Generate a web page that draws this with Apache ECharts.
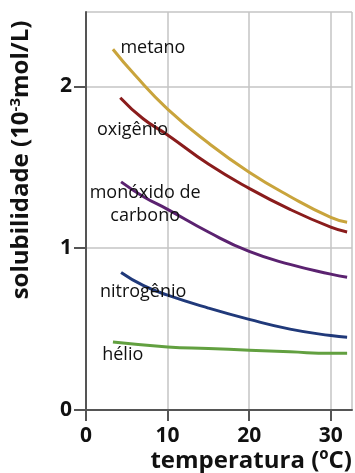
<!DOCTYPE html>
<html>
<head>
<meta charset="utf-8">
<script src="https://cdn.jsdelivr.net/npm/echarts@6/dist/echarts.min.js"></script>
<style>
html,body{margin:0;padding:0;background:#fff;}
#chart{width:355px;height:473px;}
</style>
</head>
<body>
<div id="chart"></div>
<script>
// temperatura (ºC) x solubilidade (10^-3 mol/L)
var metano     = [[3.3, 2.23], [6, 2.07], [10, 1.86], [15, 1.65], [20, 1.47], [25, 1.32], [30, 1.19], [32, 1.16]];
var oxigenio   = [[4.2, 1.93], [7, 1.80], [10, 1.70], [15, 1.52], [20, 1.37], [25, 1.24], [30, 1.13], [32, 1.10]];
var monoxido   = [[4.3, 1.41], [7, 1.32], [10, 1.24], [15, 1.10], [20, 0.98], [25, 0.90], [30, 0.84], [32, 0.82]];
var nitrogenio = [[4.3, 0.85], [7, 0.77], [10, 0.71], [15, 0.63], [20, 0.56], [25, 0.50], [30, 0.46], [32, 0.45]];
var helio      = [[3.3, 0.42], [10, 0.39], [15, 0.38], [20, 0.37], [25, 0.36], [30, 0.35], [32, 0.35]];

var names  = ['metano', 'oxigênio', 'monóxido de\ncarbono', 'nitrogênio', 'hélio'];
var labelAt = [[8.2, 2.24], [5.7, 1.73], [7.25, 1.27], [7.0, 0.73], [4.5, 0.34]];
var colors = ['#c9a43c', '#8a1c1c', '#5b2270', '#20397a', '#62a040'];
var seriesData = [metano, oxigenio, monoxido, nitrogenio, helio];

var myChart = echarts.init(document.getElementById('chart'));
var font = '"Open Sans", sans-serif';

var series = [];
for (var i = 0; i < seriesData.length; i++) {
    series.push({
        name: names[i],
        type: 'line',
        smooth: true,
        showSymbol: false,
        data: seriesData[i],
        lineStyle: {color: colors[i], width: 3},
        itemStyle: {color: colors[i]},
        markPoint: {
            symbol: 'circle',
            symbolSize: 0,
            silent: true,
            label: {
                show: true,
                position: 'inside',
                formatter: names[i],
                color: '#111',
                fontFamily: font,
                fontSize: 18,
                lineHeight: 23,
                align: 'center'
            },
            data: [{coord: labelAt[i]}]
        }
    });
}

var option = {
    animation: false,
    grid: {left: 86, right: 3, top: 12, bottom: 63, containLabel: false, outerBoundsMode: 'none'},
    xAxis: {
        type: 'value',
        min: 0,
        max: 32.6,
        interval: 10,
        name: 'temperatura (ºC)',
        nameLocation: 'end',
        nameGap: 0,
        nameTextStyle: {
            align: 'right',
            verticalAlign: 'top',
            padding: [39, 0, 0, 0],
            fontFamily: font,
            fontWeight: 'bold',
            fontSize: 24,
            color: '#111'
        },
        axisLine: {show: true, lineStyle: {color: '#555', width: 2}},
        axisTick: {show: true, inside: false, length: 11, lineStyle: {color: '#555', width: 2}},
        axisLabel: {
            margin: 16,
            fontFamily: font,
            fontWeight: 'bold',
            fontSize: 21,
            color: '#111',
            showMaxLabel: false
        },
        splitLine: {show: true, lineStyle: {color: '#c4c4c4', width: 1.5}}
    },
    yAxis: {
        type: 'value',
        min: 0,
        max: 2.46,
        interval: 1,
        name: '{a|solubilidade (10}{s|-3}{a|mol/L)}',
        nameLocation: 'middle',
        nameGap: 51,
        nameTextStyle: {
            padding: [0, 0, 0, 102],
            rich: {
                a: {fontFamily: font, fontWeight: 'bold', fontSize: 24, color: '#111'},
                s: {fontFamily: font, fontWeight: 'bold', fontSize: 15, color: '#111', verticalAlign: 'top', padding: [0, 0, 12, 0]}
            }
        },
        axisLine: {show: true, lineStyle: {color: '#555', width: 2}},
        axisTick: {show: true, length: 12, lineStyle: {color: '#555', width: 2}},
        axisLabel: {
            margin: 14,
            fontFamily: font,
            fontWeight: 'bold',
            fontSize: 21,
            color: '#111',
            showMaxLabel: false
        },
        splitLine: {show: true, lineStyle: {color: '#c4c4c4', width: 1.5}}
    },
    series: series
};
myChart.setOption(option);
</script>
</body>
</html>
